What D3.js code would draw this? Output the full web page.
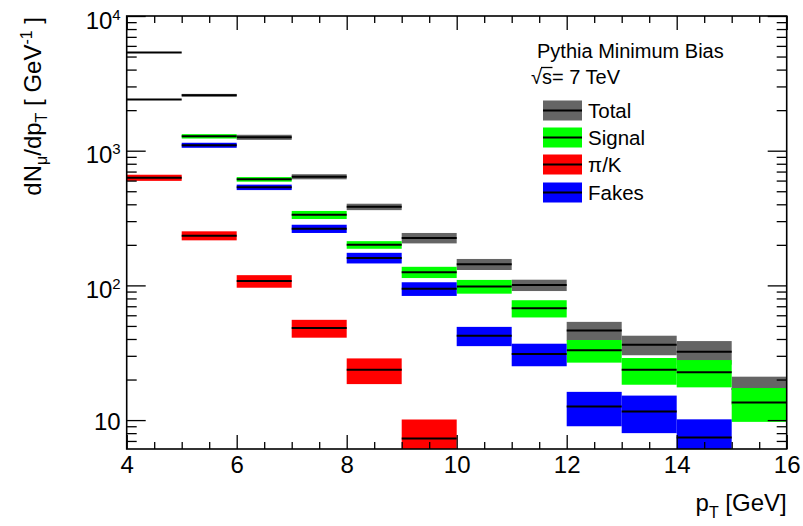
<!DOCTYPE html>
<html>
<head>
<meta charset="utf-8">
<script src="https://cdn.jsdelivr.net/npm/d3@7"></script>
<style>
  body { margin: 0; background: #fff; }
  svg { display: block; font-family: "Liberation Sans", Arial, sans-serif; }
</style>
</head>
<body>
<div id="chart"></div>
<script>
"use strict";

// pT bins, 1 GeV wide
const binLow = [4, 5, 6, 7, 8, 9, 10, 11, 12, 13, 14, 15];
const binWidth = 1;

// dN/dpT per bin (null = not drawn), with absolute errors
const total     = [5360, 2580, 1258, 641, 383, 225, 143.6, 100.5, 46.3, 36.3, 32.2, 17];
const totalErr  = [0, 60, 55, 28, 21, 20, 13.5, 9.7, 7.3, 6, 6.4, 4];
const signal    = [2400, 1279, 613, 334, 200, 125.4, 98.3, 67.7, 33.0, 23.6, 22.7, 13.5];
const signalErr = [0, 48, 24, 23, 13, 12, 11.5, 9.9, 6.3, 5.3, 5.2, 3.8];
const pik       = [630, 234, 107.6, 48.2, 23.6, 7.3, null, null, null, null, null, null];
const pikErr    = [33, 18, 11.5, 7.3, 5.1, 2.8, 0, 0, 0, 0, 0, 0];
const fakes     = [null, 1098, 535, 263.5, 160, 94.5, 42.3, 31.0, 12.6, 11.6, 7.43, null];
const fakesErr  = [0, 47, 25, 18.5, 14.5, 11, 6.9, 5.9, 3.6, 3.6, 2.7, 0];

const seriesNames  = ["Total", "Signal", "\u03c0/K", "Fakes"];
const seriesColors = ["#656565", "#00ff00", "#ff0000", "#0000ff"];

const xTicksMajor = [4, 6, 8, 10, 12, 14, 16];
const yDecades = [10, 100, 1000, 10000];

const W = 803, H = 526;
const plotL = 126.7, plotR = 786.7, plotT = 16, plotB = 449;

const svg = d3.select("#chart").append("svg")
	.attr("width", W)
	.attr("height", H);

const x = d3.scaleLinear().domain([4, 16]).range([plotL, plotR]);
const y = d3.scaleLog().domain([6.1, 10000]).range([plotB, plotT]);

svg.append("clipPath").attr("id", "plotclip")
	.append("rect")
	.attr("x", plotL).attr("y", plotT)
	.attr("width", plotR - plotL).attr("height", plotB - plotT);

const plot = svg.append("g").attr("clip-path", "url(#plotclip)");

const series = [
	{ vals: total, errs: totalErr },
	{ vals: signal, errs: signalErr },
	{ vals: pik, errs: pikErr },
	{ vals: fakes, errs: fakesErr }
];

// each series: error band then black centre line
series.forEach((s, si) => {
	const rows = binLow.map((b, i) => ({ b: b, v: s.vals[i], e: s.errs[i] }))
		.filter(d => d.v !== null);
	const g = plot.append("g");
	g.selectAll("rect")
		.data(rows.filter(d => d.e > 0))
		.enter().append("rect")
		.attr("x", d => x(d.b))
		.attr("width", d => x(d.b + binWidth) - x(d.b))
		.attr("y", d => y(d.v + d.e))
		.attr("height", d => y(Math.max(d.v - d.e, 1)) - y(d.v + d.e))
		.attr("fill", seriesColors[si]);
	g.selectAll("line")
		.data(rows)
		.enter().append("line")
		.attr("x1", d => x(d.b))
		.attr("x2", d => x(d.b + binWidth))
		.attr("y1", d => y(d.v))
		.attr("y2", d => y(d.v))
		.attr("stroke", "#000")
		.attr("stroke-width", 2);
});

// axes, ROOT style: ticks inside the frame on all four sides
const xMinor = d3.range(4, 16.01, 0.5).filter(v => xTicksMajor.indexOf(v) < 0);
const yMinor = [];
[1, 10, 100, 1000].forEach(dec => {
	for (let k = 2; k <= 9; k++) {
		const v = dec * k;
		if (v >= 6.1 && v <= 10000) yMinor.push(v);
	}
});

function tickAxis(axis) {
	return g => {
		g.call(axis);
		g.select(".domain").remove();
		g.selectAll("line").attr("stroke", "#000").attr("stroke-width", 1.3);
	};
}

svg.append("g").attr("transform", `translate(0,${plotB})`)
	.call(tickAxis(d3.axisBottom(x).tickValues(xMinor).tickSize(-7).tickFormat("")));
svg.append("g").attr("transform", `translate(0,${plotT})`)
	.call(tickAxis(d3.axisTop(x).tickValues(xMinor).tickSize(-7).tickFormat("")));
svg.append("g").attr("transform", `translate(0,${plotT})`)
	.call(tickAxis(d3.axisTop(x).tickValues(xTicksMajor).tickSize(-14).tickFormat("")));

const xAxis = svg.append("g").attr("transform", `translate(0,${plotB})`)
	.call(tickAxis(d3.axisBottom(x).tickValues(xTicksMajor).tickSize(-14).tickPadding(7).tickFormat(d3.format("d"))));
xAxis.selectAll("text")
	.attr("font-size", 24)
	.attr("font-family", "Liberation Sans, Arial, sans-serif")
	.attr("fill", "#000");

svg.append("g").attr("transform", `translate(${plotL},0)`)
	.call(tickAxis(d3.axisLeft(y).tickValues(yMinor).tickSize(-10).tickFormat("")));
svg.append("g").attr("transform", `translate(${plotR},0)`)
	.call(tickAxis(d3.axisRight(y).tickValues(yMinor).tickSize(-10).tickFormat("")));
svg.append("g").attr("transform", `translate(${plotR},0)`)
	.call(tickAxis(d3.axisRight(y).tickValues(yDecades).tickSize(-19).tickFormat("")));

const yAxis = svg.append("g").attr("transform", `translate(${plotL},0)`)
	.call(tickAxis(d3.axisLeft(y).tickValues(yDecades).tickSize(-19).tickPadding(6).tickFormat("")));
yAxis.selectAll(".tick").append("text")
	.attr("x", -6)
	.attr("text-anchor", "end")
	.attr("font-size", 24)
	.attr("font-family", "Liberation Sans, Arial, sans-serif")
	.attr("fill", "#000")
	.each(function (d) {
		const t = d3.select(this);
		const p = Math.round(Math.log10(d));
		if (p === 1) {
			t.attr("dy", 9.5).text("10");
		} else {
			t.attr("dy", 12).text("10");
			t.append("tspan").attr("font-size", 15).attr("dy", -9).text(p);
		}
	});

// frame
svg.append("rect")
	.attr("x", plotL).attr("y", plotT)
	.attr("width", plotR - plotL).attr("height", plotB - plotT)
	.attr("fill", "none")
	.attr("stroke", "#000")
	.attr("stroke-width", 1.6);

// axis titles
const xTitle = svg.append("text")
	.attr("x", plotR).attr("y", 511)
	.attr("text-anchor", "end")
	.attr("font-size", 24);
xTitle.append("tspan").text("p");
xTitle.append("tspan").attr("font-size", 16).attr("dy", 7).text("T");
xTitle.append("tspan").attr("dy", -7).text(" [GeV]");

const yTitle = svg.append("text")
	.attr("transform", "translate(41,17) rotate(-90)")
	.attr("text-anchor", "end")
	.attr("font-size", 24);
yTitle.append("tspan").text("dN");
yTitle.append("tspan").attr("font-size", 16).attr("dy", 6).text("\u03bc");
yTitle.append("tspan").attr("dy", -6).text("/dp");
yTitle.append("tspan").attr("font-size", 16).attr("dy", 6).text("T");
yTitle.append("tspan").attr("dy", -6).text(" [ GeV");
yTitle.append("tspan").attr("font-size", 16).attr("dy", -9).text("-1");
yTitle.append("tspan").attr("dy", 9).text(" ]");

// legend header
svg.append("text")
	.attr("x", 537).attr("y", 58)
	.attr("font-size", 20)
	.text("Pythia Minimum Bias");
const sq = svg.append("text")
	.attr("x", 531).attr("y", 84)
	.attr("font-size", 20)
	.text("\u221as= 7 TeV");
// bar of the square root over the s
const sNode = sq.node();
const sx0 = sNode.getStartPositionOfChar(1).x;
const sx1 = sNode.getEndPositionOfChar(1).x;
svg.append("line")
	.attr("x1", sx0 - 1).attr("x2", sx1 + 0.5)
	.attr("y1", 67.5).attr("y2", 67.5)
	.attr("stroke", "#000").attr("stroke-width", 1.3);

const legRowY = [110.5, 137.5, 164.5, 192.5];
const leg = svg.append("g").selectAll("g")
	.data(seriesNames)
	.enter().append("g")
	.attr("transform", (d, i) => `translate(543,${legRowY[i]})`);
leg.append("rect")
	.attr("x", 0).attr("y", -10)
	.attr("width", 39).attr("height", 20)
	.attr("fill", (d, i) => seriesColors[i]);
leg.append("line")
	.attr("x1", 0).attr("x2", 39)
	.attr("y1", 0).attr("y2", 0)
	.attr("stroke", "#000").attr("stroke-width", 2);
leg.append("text")
	.attr("x", 45).attr("y", 7.5)
	.attr("font-size", 20.5)
	.text(d => d);
</script>
</body>
</html>
